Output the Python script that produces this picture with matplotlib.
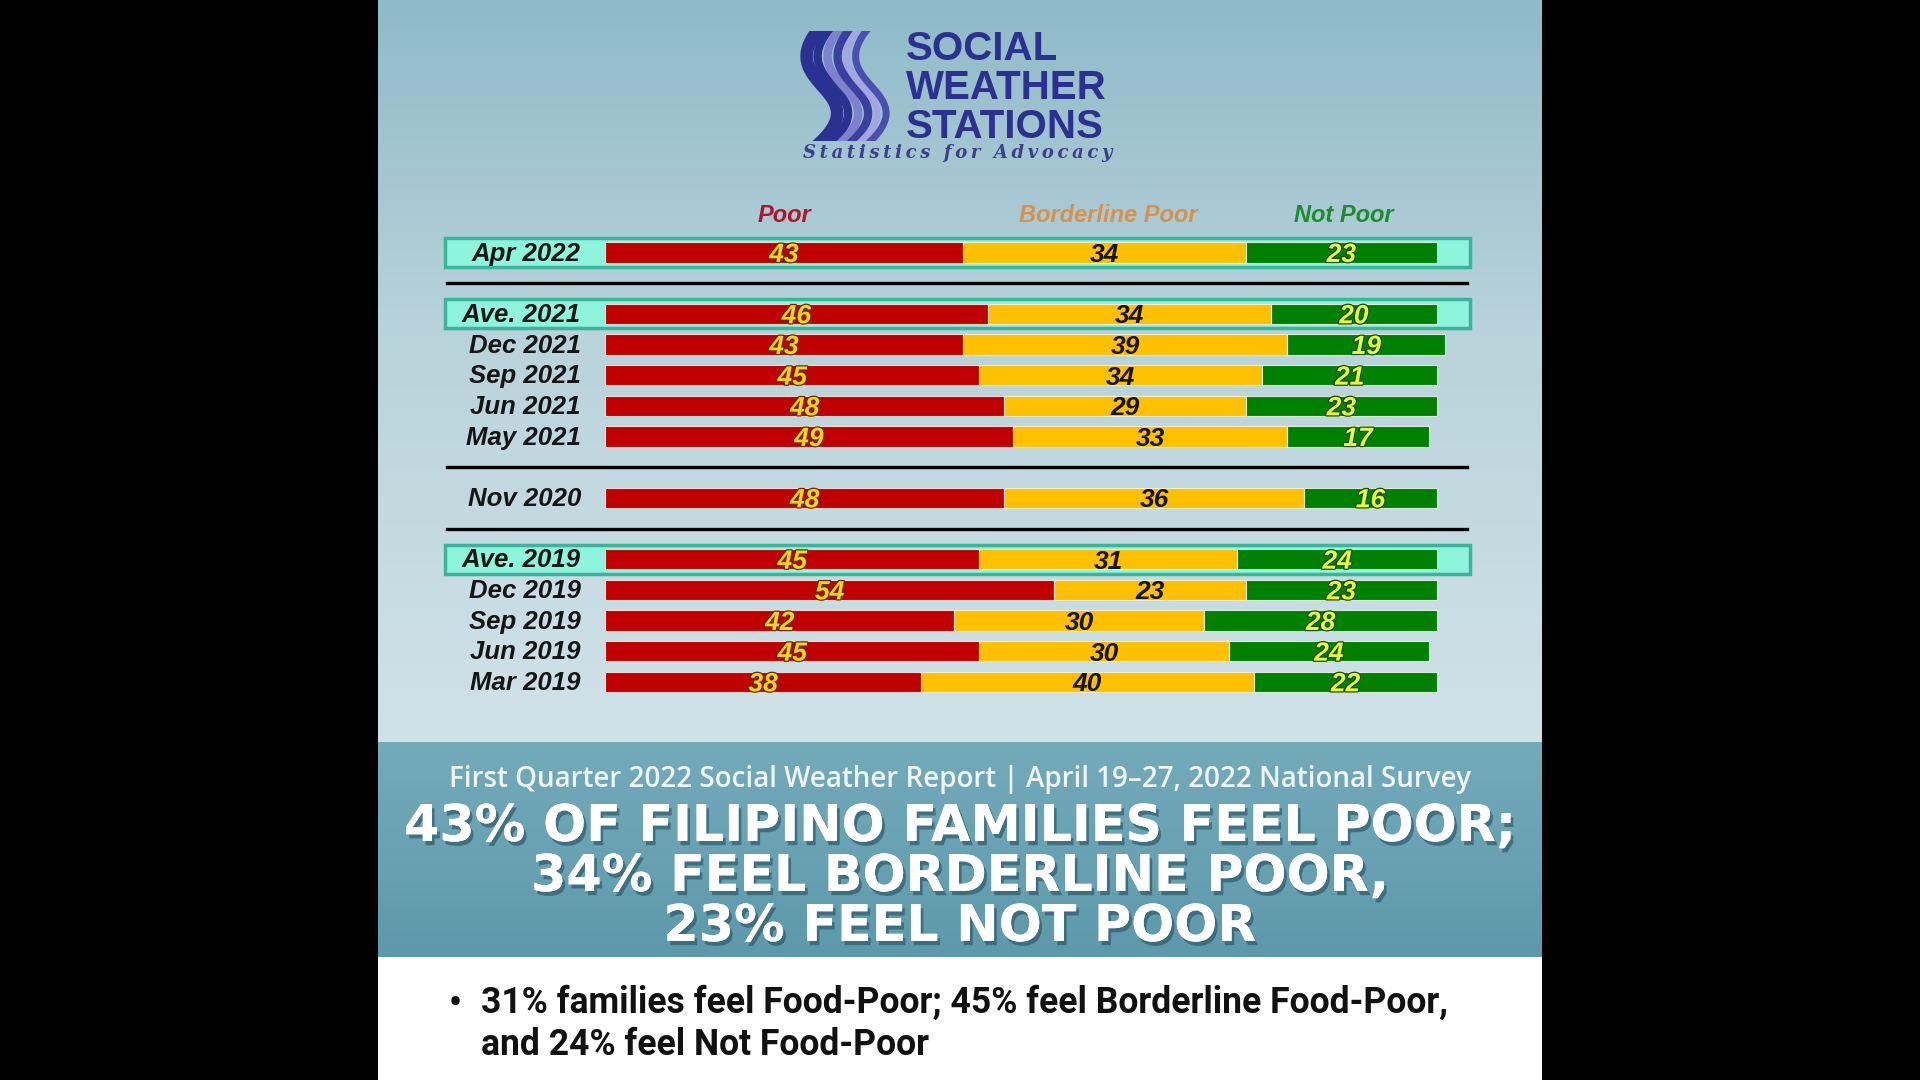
import numpy as np
import matplotlib
matplotlib.use("Agg")
import matplotlib.pyplot as plt
import matplotlib.patheffects as pe
from matplotlib.colors import LinearSegmentedColormap
from matplotlib.patches import Rectangle

plt.rcParams['font.family'] = ['Liberation Sans', 'DejaVu Sans']

# survey rows, top to bottom
periods = ["Apr 2022", "Ave. 2021", "Dec 2021", "Sep 2021", "Jun 2021", "May 2021",
           "Nov 2020", "Ave. 2019", "Dec 2019", "Sep 2019", "Jun 2019", "Mar 2019"]
poor = [43, 46, 43, 45, 48, 49, 48, 45, 54, 42, 45, 38]
borderline = [34, 34, 39, 34, 29, 33, 36, 31, 23, 30, 30, 40]
not_poor = [23, 20, 19, 21, 23, 17, 16, 24, 23, 28, 24, 22]
highlight = ["Apr 2022", "Ave. 2021", "Ave. 2019"]

# row slots (gaps hold the black separator lines)
slots = [0, 2, 3, 4, 5, 6, 8, 10, 11, 12, 13, 14]
separators = [1, 7, 9]

fig = plt.figure(figsize=(19.2, 10.8), dpi=100)
fig.patch.set_facecolor('black')

# background panel, pixel coordinates
bg = fig.add_axes([0, 0, 1, 1])
bg.set_xlim(0, 1920)
bg.set_ylim(1080, 0)
bg.axis('off')

ramp = np.linspace(0, 1, 256).reshape(-1, 1)
top_cmap = LinearSegmentedColormap.from_list('top', [(0, '#8fbac8'), (0.45, '#b9d3db'), (1, '#d0e2e8')])
band_cmap = LinearSegmentedColormap.from_list('band', ['#74abbb', '#5d99ab'])
bg.imshow(ramp, cmap=top_cmap, extent=(378, 1542, 742, 0), aspect='auto', origin='upper')
bg.imshow(ramp, cmap=band_cmap, extent=(378, 1542, 957, 742), aspect='auto', origin='upper')
bg.add_patch(Rectangle((378, 957), 1164, 123, facecolor='white', edgecolor='none'))

# logo swoosh
clip = Rectangle((790, 31), 110, 110, transform=bg.transData, facecolor='none', edgecolor='none')
bg.add_patch(clip)
stripe_dx = [-27, -16, -6, 4, 13, 22]
stripe_col = ['#2b3190', '#2b3190', '#7e82cc', '#3a3fa0', '#a3a6e0', '#4a4fb0']
stripe_lw = [9, 6, 6, 6, 5, 5]
t = np.linspace(0, 1, 80)
p0, p1, p2, p3 = (852, 22), (788, 88), (918, 88), (836, 152)
for dx, c, lw in zip(stripe_dx, stripe_col, stripe_lw):
    xs = (1-t)**3*p0[0] + 3*(1-t)**2*t*p1[0] + 3*(1-t)*t**2*p2[0] + t**3*p3[0] + dx
    ys = (1-t)**3*p0[1] + 3*(1-t)**2*t*p1[1] + 3*(1-t)*t**2*p2[1] + t**3*p3[1]
    ln, = bg.plot(xs, ys, color=c, lw=lw, solid_capstyle='butt')
    ln.set_clip_path(clip)

logo_kw = dict(color='#2b3190', fontsize=29, fontweight='bold', family='Liberation Sans',
               ha='left', va='baseline')
bg.text(906, 60, "SOCIAL", **logo_kw)
bg.text(906, 99, "WEATHER", **logo_kw)
bg.text(906, 138, "STATIONS", **logo_kw)
bg.text(958, 158, "\u2009".join("Statistics for Advocacy"), color='#3b3f8f', fontsize=13,
        fontweight='bold', fontstyle='italic', family='DejaVu Serif', ha='center', va='baseline')

# bar chart axes, placed over the panel
def px_x(p):
    return (p - 605) / 8.32

def px_y(p):
    return (p - 252.5) / 30.67

ax = fig.add_axes([378/1920, 1 - 720/1080, 1164/1920, 530/1080])
ax.set_xlim(px_x(378), px_x(1542))
ax.set_ylim(px_y(720), px_y(190))
ax.axis('off')

for name, y in zip(periods, slots):
    if name in highlight:
        ax.add_patch(Rectangle((px_x(445), y - 0.47), px_x(1470) - px_x(445), 0.94,
                               facecolor='#8ef5dc', edgecolor='#3ab59c', lw=2.5, zorder=1))

for s in separators:
    ax.plot([px_x(447), px_x(1467)], [s, s], color='black', lw=2.4, zorder=1)

poor_a = np.array(poor)
bord_a = np.array(borderline)
np_a = np.array(not_poor)
bh = 0.66
ax.barh(slots, poor_a, height=bh, color='#c00000', edgecolor='#f2d6d0', lw=0.8, zorder=2)
ax.barh(slots, bord_a, left=poor_a, height=bh, color='#ffc000', edgecolor='#f7ecd0', lw=0.8, zorder=2)
ax.barh(slots, np_a, left=poor_a + bord_a, height=bh, color='#008000', edgecolor='#d8ecd8', lw=0.8, zorder=2)

val_kw = dict(fontsize=19, fontweight='bold', fontstyle='italic', ha='center', va='center', zorder=3)
for i, y in enumerate(slots):
    ax.text(poor_a[i] / 2, y + 0.08, str(poor_a[i]), color='#ffd21f',
            path_effects=[pe.withStroke(linewidth=1.8, foreground='#6a2a00')], **val_kw)
    ax.text(poor_a[i] + bord_a[i] / 2, y + 0.08, str(bord_a[i]), color='#141414', **val_kw)
    ax.text(poor_a[i] + bord_a[i] + np_a[i] / 2, y + 0.08, str(np_a[i]), color='#e4ff3c',
            path_effects=[pe.withStroke(linewidth=1.8, foreground='#1c4a00')], **val_kw)
    ax.text(px_x(581), y + 0.04, periods[i], color='#151515', fontsize=18.5, fontweight='bold',
            fontstyle='italic', ha='right', va='center', zorder=3)

head_kw = dict(fontsize=17, fontweight='bold', fontstyle='italic', ha='center', va='center')
ax.text(px_x(784), px_y(215), "Poor", color='#b0142a', **head_kw)
ax.text(px_x(1108), px_y(215), "Borderline Poor", color='#d8904c', **head_kw)
ax.text(px_x(1344), px_y(215), "Not Poor", color='#1e8c2e', **head_kw)

# report headline
bg.text(960, 779, "First Quarter 2022 Social Weather Report | April 19\u201327, 2022 National Survey",
        color='#f0f6f8', fontsize=20, family='Open Sans', fontweight='semibold', ha='center', va='center')
shadow = [pe.withSimplePatchShadow(offset=(2, -3), shadow_rgbFace='#24505e', alpha=0.6), pe.Normal()]
bg.text(960, 877, "43% OF FILIPINO FAMILIES FEEL POOR;\n34% FEEL BORDERLINE POOR,\n23% FEEL NOT POOR",
        color='white', fontsize=36.5, family='DejaVu Sans', fontweight='bold', linespacing=1.0,
        ha='center', va='center', multialignment='center', path_effects=shadow)

bullet_kw = dict(color='#111111', fontsize=25.6, family='Roboto', fontweight='bold', va='center')
bg.text(455, 1004, "\u2022", ha='center', **bullet_kw)
bg.text(481, 1024, "31% families feel Food-Poor; 45% feel Borderline Food-Poor,\nand 24% feel Not Food-Poor",
        ha='left', linespacing=1.22, **bullet_kw)

plt.savefig("out.png", dpi=100, facecolor=fig.get_facecolor())
